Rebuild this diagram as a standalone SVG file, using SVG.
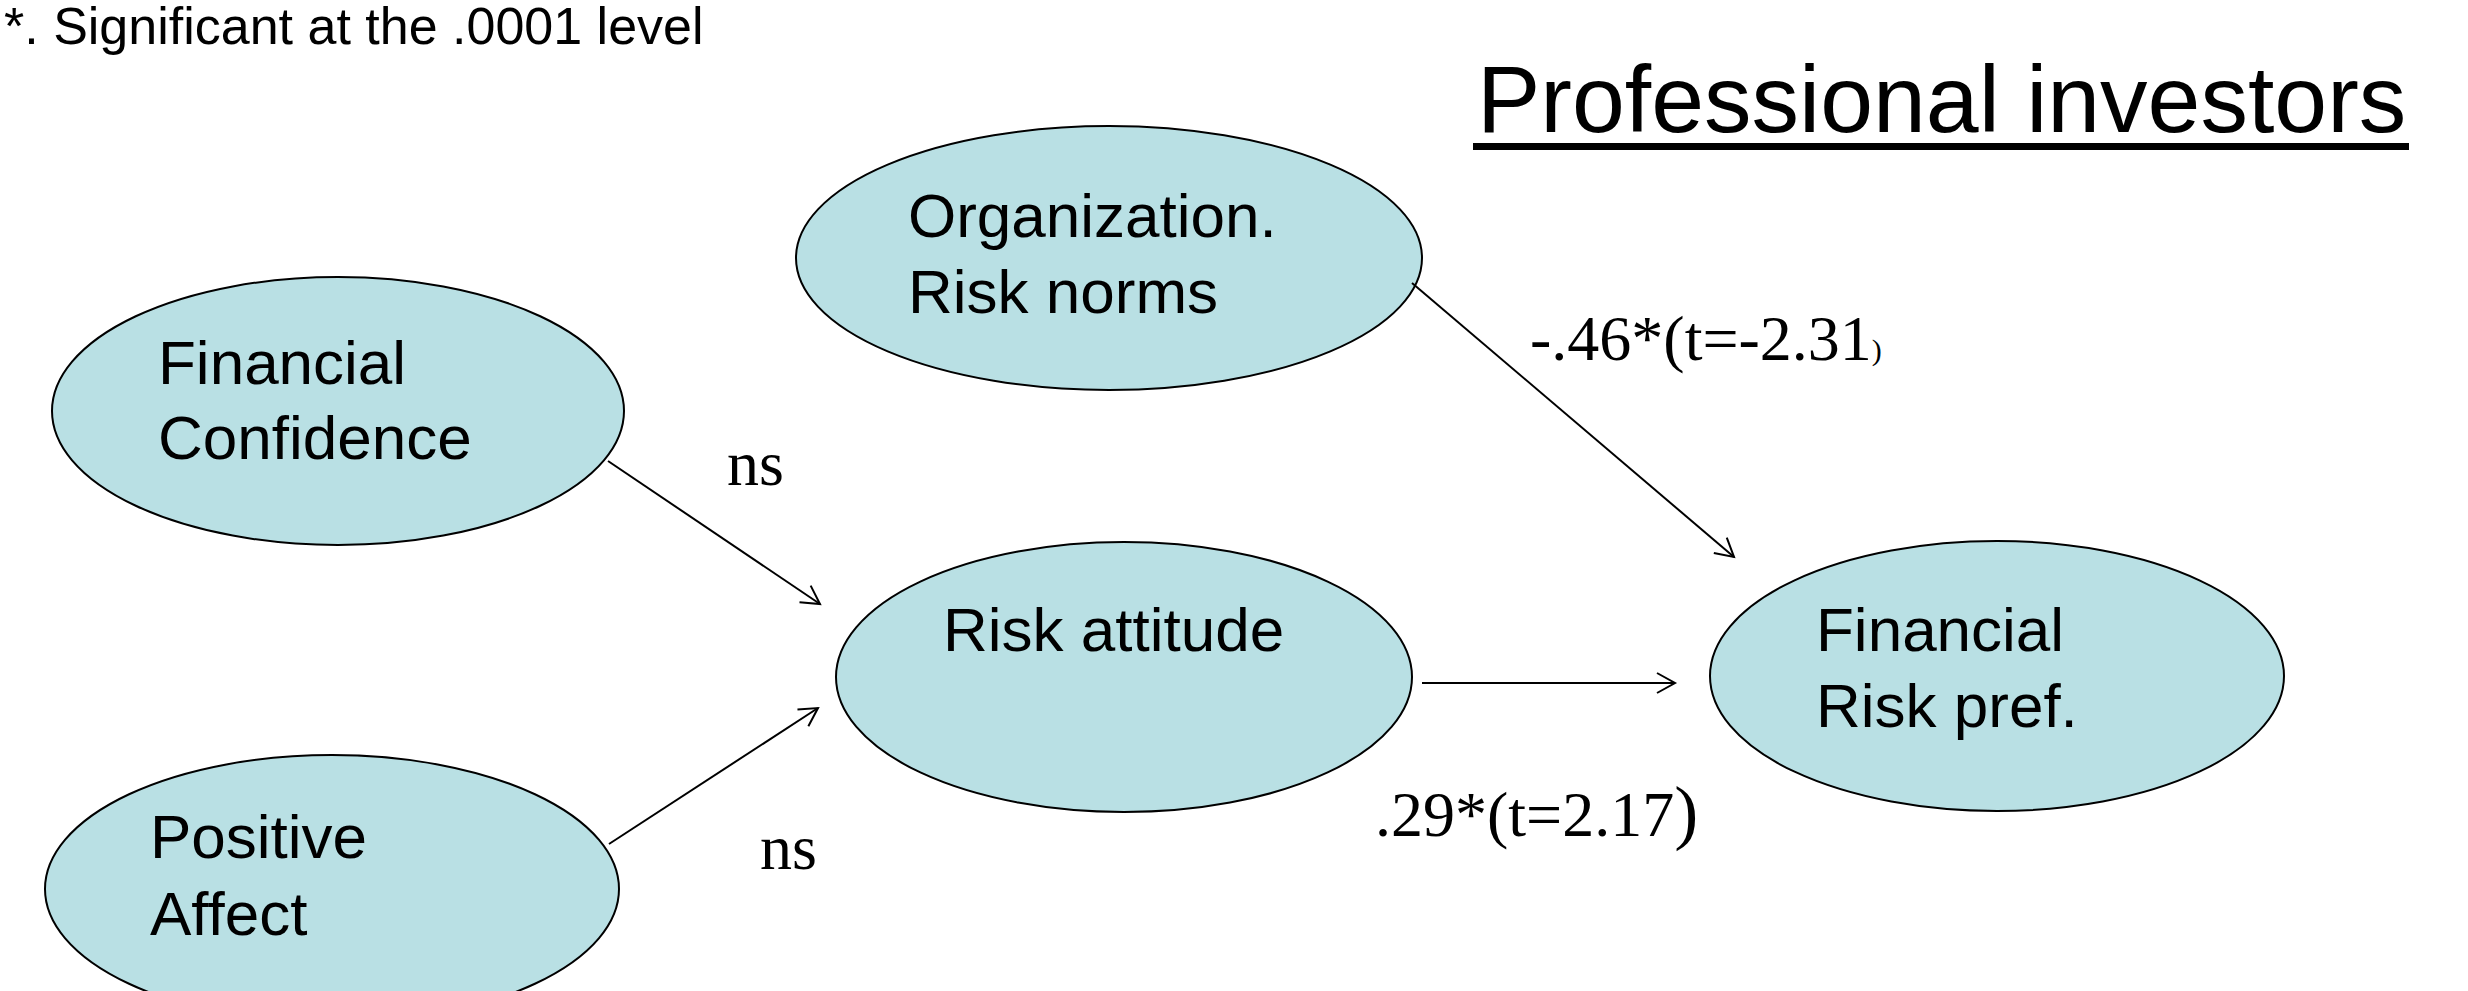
<svg xmlns="http://www.w3.org/2000/svg" width="2468" height="991" viewBox="0 0 2468 991">
<style>
.node ellipse{fill:#B9E0E4;stroke:#000;stroke-width:2}
.lbl{font-family:"Liberation Sans",Arial,sans-serif;font-size:62px;fill:#000}
.coef{font-family:"Liberation Serif","Times New Roman",serif;font-size:64px;fill:#000}
.conn line{stroke:#000;stroke-width:2;marker-end:url(#arr)}
</style>
<defs>
<marker id="arr" viewBox="-22 -13 26 26" markerWidth="26" markerHeight="26" refX="0" refY="0" orient="auto" markerUnits="userSpaceOnUse">
<path d="M-18,-10 L0,0 L-18,10" fill="none" stroke="#000" stroke-width="2"/>
</marker>
</defs>
<rect width="2468" height="991" fill="#fff"/>
<text x="4" y="44" font-family="'Liberation Sans',Arial,sans-serif" font-size="52">*. Significant at the .0001 level</text>
<text x="1477" y="132" font-family="'Liberation Sans',Arial,sans-serif" font-size="95">Professional investors</text>
<rect x="1473" y="143" width="936" height="7" fill="#000"/>
<g id="org" class="node">
<ellipse cx="1109" cy="258" rx="313" ry="132"/>
<text class="lbl" x="908" y="237">Organization.</text>
<text class="lbl" x="908" y="313">Risk norms</text>
</g>
<g id="fincon" class="node">
<ellipse cx="338" cy="411" rx="286" ry="134"/>
<text class="lbl" x="158" y="384">Financial</text>
<text class="lbl" x="158" y="459">Confidence</text>
</g>
<g id="posaff" class="node">
<ellipse cx="332" cy="889" rx="287" ry="134"/>
<text class="lbl" x="150" y="858">Positive</text>
<text class="lbl" x="150" y="935">Affect</text>
</g>
<g id="riskatt" class="node">
<ellipse cx="1124" cy="677" rx="288" ry="135"/>
<text class="lbl" x="943" y="651">Risk attitude</text>
</g>
<g id="finrisk" class="node">
<ellipse cx="1997" cy="676" rx="287" ry="135"/>
<text class="lbl" x="1816" y="651">Financial</text>
<text class="lbl" x="1816" y="727">Risk pref.</text>
</g>
<g id="connectors" class="conn">
<line x1="608" y1="461" x2="820" y2="604"/>
<line x1="609" y1="844" x2="818" y2="708"/>
<line x1="1412" y1="283" x2="1734" y2="557"/>
<line x1="1422" y1="683" x2="1675" y2="683"/>
</g>
<g id="labels">
<text class="coef" x="727" y="485" font-size="60">ns</text>
<text class="coef" x="760" y="869" font-size="60">ns</text>
<text class="coef" x="1530" y="360">-.46*(t=-2.31<tspan font-size="30">)</tspan></text>
<text class="coef" x="1375" y="836">.29*(t=2.17<tspan font-size="72">)</tspan></text>
</g>
</svg>
